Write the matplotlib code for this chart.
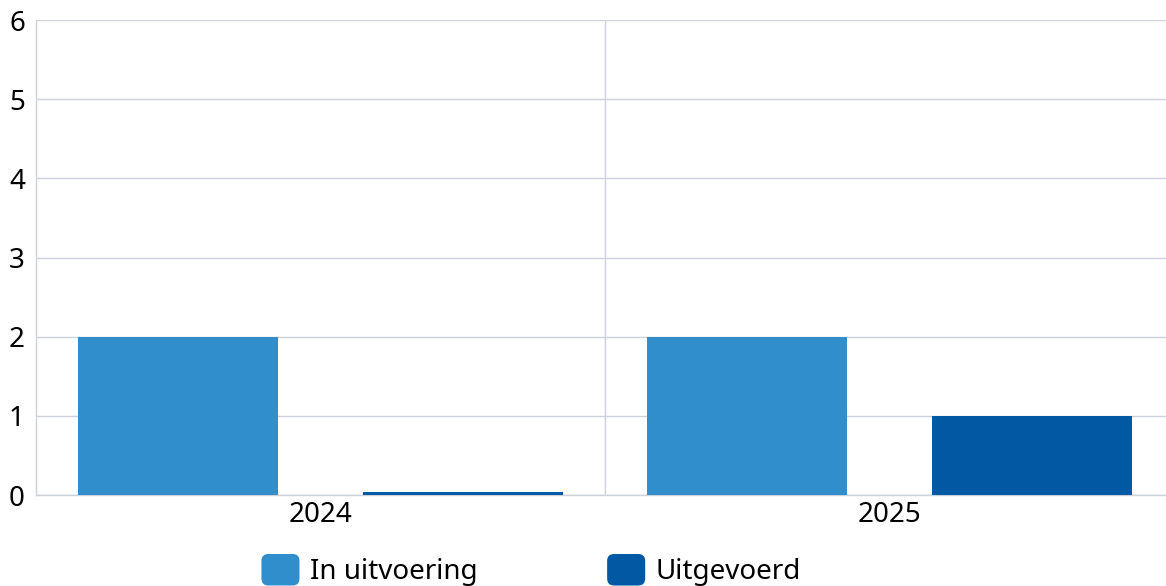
import numpy as np
import matplotlib.pyplot as plt
from matplotlib.patches import FancyBboxPatch
from matplotlib.legend_handler import HandlerPatch
from matplotlib.patches import Patch

plt.rcParams['font.family'] = ['Noto Sans', 'DejaVu Sans']

years = ['2024', '2025']
series = ['In uitvoering', 'Uitgevoerd']
in_uitvoering = [2, 2]
uitgevoerd = [0.035, 1]
colors = ['#318ECC', '#0159A4']
grid_color = '#CCD1DD'


def rounded_box(legend, orig_handle, xdescent, ydescent, width, height, fontsize):
    return FancyBboxPatch((-xdescent, -ydescent), width, height,
                          boxstyle='round,pad=0,rounding_size=5',
                          facecolor=orig_handle.get_facecolor(), edgecolor='none')


fig = plt.figure(figsize=(11.66, 5.86), dpi=100)
# plot area runs a little past the right edge of the image, as in the original
ax = fig.add_axes([36 / 1166, 1 - 495 / 586, 1138 / 1166, (495 - 20) / 586])

x = np.arange(len(years))
offset = 0.25
width = 0.3515
ax.bar(x - offset, in_uitvoering, width, color=colors[0], zorder=3)
ax.bar(x + offset, uitgevoerd, width, color=colors[1], zorder=3)

ax.set_xlim(-0.5, 1.5)
ax.set_ylim(0, 6)
ax.set_yticks(range(0, 7))
ax.set_xticks(x)
ax.set_xticklabels(years)
ax.set_xticks([0.5], minor=True)
ax.grid(axis='y', color=grid_color, linewidth=1, zorder=0)
ax.grid(axis='x', which='minor', color=grid_color, linewidth=1, zorder=0)
ax.tick_params(axis='both', which='both', length=0, labelsize=20, colors='#000000')
ax.tick_params(axis='y', pad=8)
ax.tick_params(axis='x', pad=4)
for side in ['top', 'right']:
    ax.spines[side].set_visible(False)
for side in ['left', 'bottom']:
    ax.spines[side].set_color(grid_color)
    ax.spines[side].set_linewidth(1)

handles = [Patch(facecolor=c, label=s) for c, s in zip(colors, series)]
fig.legend(handles=handles, loc='center', bbox_to_anchor=(531 / 1166, 1 - 570 / 586),
           ncol=2, frameon=False, fontsize=20, handlelength=1.37, handleheight=1.37,
           handletextpad=0.36, columnspacing=4.68, borderpad=0,
           handler_map={Patch: HandlerPatch(patch_func=rounded_box)})

fig.savefig('out.png', dpi=100)
